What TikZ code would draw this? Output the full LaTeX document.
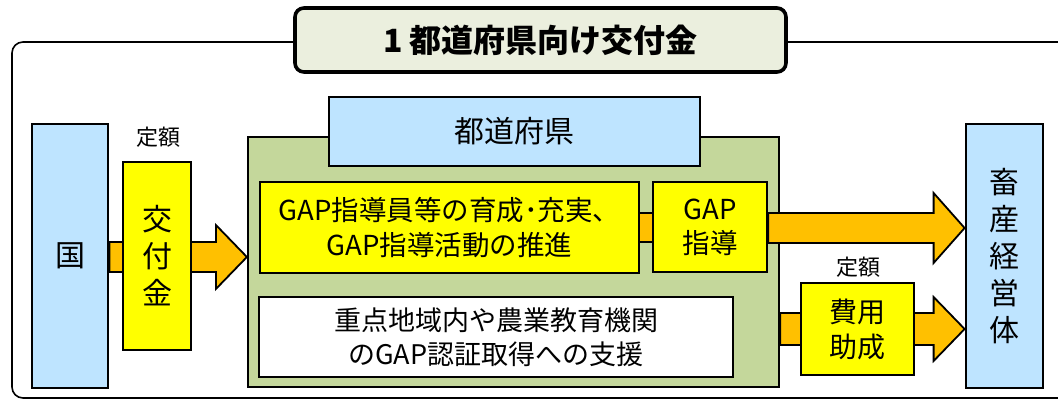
\documentclass[tikz,border=0pt]{standalone}
\usepackage{fontspec}
\setmainfont{Noto Sans CJK JP}
\usetikzlibrary{calc}
\definecolor{lblue}{RGB}{190,228,255}
\definecolor{yel}{RGB}{255,255,0}
\definecolor{org}{RGB}{255,192,0}
\definecolor{grn}{RGB}{196,215,155}
\definecolor{ttl}{RGB}{235,239,222}
\tikzset{
  box/.style={draw=black, line width=2.2pt, inner sep=0pt, align=center, anchor=center},
  bluebox/.style={box, fill=lblue, line width=2.8pt},
  yelbox/.style={box, fill=yel},
  fatarrow/.style={draw=black, fill=org, line width=1.8pt, line join=miter},
  lbl/.style={inner sep=0pt, font=\fontsize{22}{24}\selectfont},
}
\newcommand\fatarr[5]{%
  \draw[fatarrow] (#1 |- 0,#3-#4) -- ([xshift=-31pt]#2 |- 0,#3-#4) -- ([xshift=-31pt]#2 |- 0,#3-#5)
    -- (#2 |- 0,#3) -- ([xshift=-31pt]#2 |- 0,#3+#5) -- ([xshift=-31pt]#2 |- 0,#3+#4)
    -- (#1 |- 0,#3+#4) -- cycle;}
\begin{document}
\begin{tikzpicture}[x=1pt,y=-1pt]
\useasboundingbox (0,0) rectangle (1058,401);
\clip (0,0) rectangle (1058,401);
% outer frame
\draw[line width=1.6pt, rounded corners=11pt] (12,42) rectangle (1090,398);
% title
\node[box, fill=ttl, line width=3.6pt, rounded corners=9pt, minimum width=491, minimum height=64,
  font=\fontsize{32}{34}\selectfont\bfseries] (title) at (540.5,40) {\raisebox{-3pt}{1 都道府県向け交付金}};
% left
\node[bluebox, minimum width=76, minimum height=264, font=\fontsize{30}{34}\selectfont] (kuni) at (70,256) {国};
% prefecture container
\node[box, fill=grn, line width=2.2pt, minimum width=531, minimum height=250] (pref) at (513.5,262) {};
\node[bluebox, line width=2.6pt, minimum width=371, minimum height=69, font=\fontsize{30}{34}\selectfont] (hdr) at (514.5,131.5) {都道府県};
\node[yelbox, minimum width=379, minimum height=91, font=\fontsize{27.5}{35}\selectfont] (ikusei) at (449.5,227.5) {GAP指導員等の育成･充実、\\GAP指導活動の推進};
\node[yelbox, minimum width=114, minimum height=90, font=\fontsize{27.5}{34}\selectfont] (shido) at (710,227) {GAP\\指導};
\node[box, fill=white, minimum width=474, minimum height=80, font=\fontsize{27}{34}\selectfont] (shien) at (496,337) {重点地域内や農業教育機関\\のGAP認証取得への支援};
% right
\node[bluebox, minimum width=77, minimum height=264, font=\fontsize{30}{37}\selectfont] (keiei) at (1004.5,256) {畜\\産\\経\\営\\体};
% arrows
\fatarr{kuni.east}{pref.west}{257}{15}{32}
\fill[org] (ikusei.east |- 0,213) rectangle (shido.west |- 0,242);
\draw[line width=1.8pt] (ikusei.east |- 0,213) -- (shido.west |- 0,213);
\draw[line width=1.8pt] (ikusei.east |- 0,242) -- (shido.west |- 0,242);
\fatarr{shido.east}{keiei.west}{228}{15}{35}
\fatarr{pref.east}{keiei.west}{329}{16}{32}
% boxes over arrows
\node[yelbox, minimum width=68, minimum height=188, font=\fontsize{30}{37}\selectfont] (kofu) at (157,256) {交\\付\\金};
\node[lbl] (teigaku1) at (158,137) {定額};
\node[yelbox, minimum width=113, minimum height=92, font=\fontsize{28}{35}\selectfont] (hiyo) at (857.5,329) {費用\\助成};
\node[lbl] (teigaku2) at (858,267) {定額};
\end{tikzpicture}
\end{document}
